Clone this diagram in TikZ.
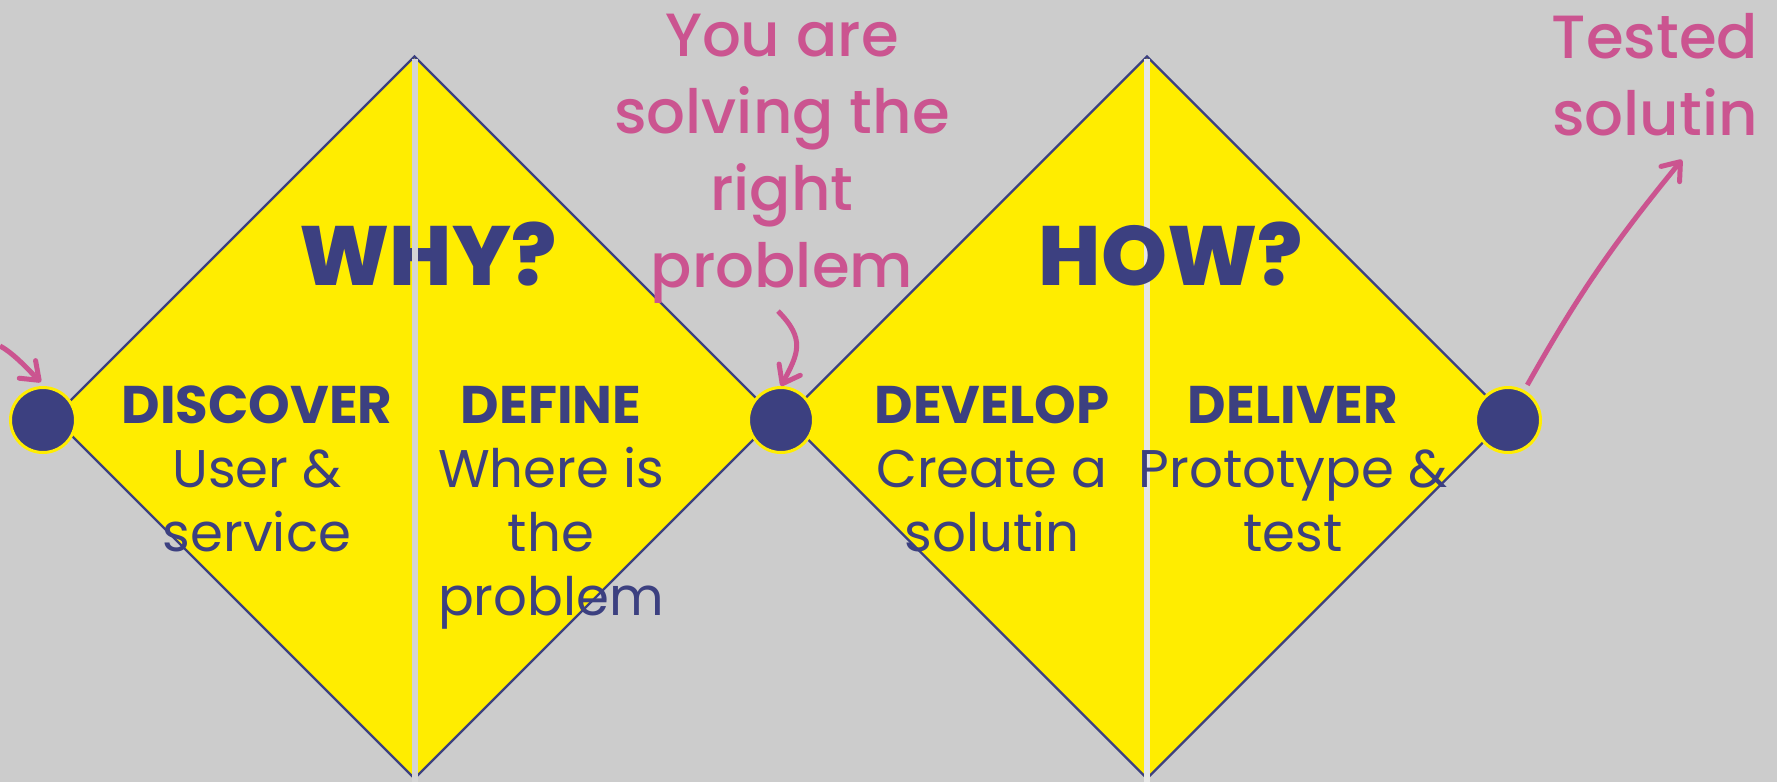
\documentclass[tikz,border=0pt]{standalone}
\usepackage{fontspec}
\setmainfont{Poppins}
\newfontfamily\pinkfont{Poppins Medium}
\newfontfamily\heavyfont{Poppins ExtraBold}
\usetikzlibrary{arrows.meta}

\definecolor{bggray}{HTML}{CCCCCC}
\definecolor{dyellow}{HTML}{FFED00}
\definecolor{dblue}{HTML}{3C4080}
\definecolor{dpink}{HTML}{CB5490}
\definecolor{stripeA}{HTML}{D4D4D4}
\definecolor{stripeB}{HTML}{E6E6E6}

\begin{document}
\begin{tikzpicture}[x=1pt, y=-1pt,
    dot/.style={circle, fill=dblue, draw=dyellow, line width=3pt, minimum size=65pt, inner sep=0pt},
    kite/.style={fill=dyellow, draw=dblue, line width=2.3pt},
    stage/.style={text=dblue, align=center, inner sep=0pt, anchor=base, font=\fontsize{53}{64}\selectfont},
    headline/.style={text=dblue, inner sep=0pt, anchor=base, font=\heavyfont\fontsize{84}{100}\selectfont},
    remark/.style={text=dpink, align=center, inner sep=0pt, anchor=base, font=\pinkfont\fontsize{61}{77}\selectfont},
    pointer/.style={draw=dpink, line width=5pt, -{Straight Barb[length=16pt,width=24pt,round]}}]
    \useasboundingbox (0,0) rectangle (1777,782);
    \fill[bggray] (0,0) rectangle (1777,782);
    % first diamond
    \filldraw[kite] (53.5,417.5) -- (414.5,56.5) -- (775.5,417.5) -- (414.5,778.5) -- cycle;
    \node (why) [headline] at (428,285) {WHY?};
    \draw[stripeA, line width=6pt] (414.5,59) -- (414.5,782);
    % second diamond
    \filldraw[kite] (786,417.5) -- (1147,56.5) -- (1508,417.5) -- (1147,778.5) -- cycle;
    \draw[stripeB, line width=6pt] (1147,59) -- (1147,782);
    \node (how) [headline] at (1171,285) {HOW?};
    % stages
    \node (discover) [stage] at (257,551) {\textbf{DISCOVER}\\User \&\\service};
    \node (define) [stage] at (551,615) {\textbf{DEFINE}\\Where is\\the\\problem};
    \node (develop) [stage] at (992,551) {\textbf{DEVELOP}\\Create a\\solutin};
    \node (deliver) [stage] at (1293,551) {\textbf{DELIVER}\\Prototype \&\\test};
    % milestones
    \node (start) [dot] at (43,420) {};
    \node (mid) [dot] at (781,420) {};
    \node (finish) [dot] at (1508,420) {};
    \node (right) [remark] at (782,287) {You are\\solving the\\right\\problem};
    \node (tested) [remark] at (1655,135) {Tested\\solutin};
    \coordinate (entry) at (0,346);
    \draw[pointer, shorten >=6pt] (entry) .. controls +(15,8) and +(-14,-13) .. (start.86);
    \draw[pointer] ([xshift=-4pt,yshift=-8pt]right.south) .. controls +(28,28) and +(17,-32) .. (mid.north);
    \draw[pointer, shorten <=6pt] (finish) to[bend left=5] ([xshift=27pt,yshift=-24pt]tested.south);
\end{tikzpicture}
\end{document}
